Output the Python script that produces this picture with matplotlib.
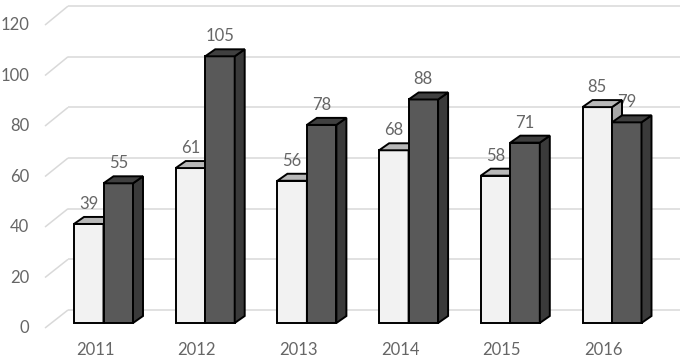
import matplotlib
matplotlib.use("Agg")
import matplotlib.pyplot as plt
from matplotlib.patches import Polygon

years = ["2011", "2012", "2013", "2014", "2015", "2016"]
series_a = [39, 61, 56, 68, 58, 85]
series_b = [55, 105, 78, 88, 71, 79]
yticks = [0, 20, 40, 60, 80, 100, 120]

TEXT = "#666666"
GRID = "#d9d9d9"
FONT = "Lato"

fig = plt.figure(figsize=(6.86, 3.58), dpi=100)
ax = fig.add_axes([0, 0, 1, 1])
ax.set_xlim(-103.5 / 101.7, (686 - 103.5) / 101.7)
ax.set_ylim((323 - 358) / 2.54, 323 / 2.54)
ax.axis("off")

w = 29.5 / 101.7
dx = 10 / 101.7
dy = 7 / 2.54

# back wall gridlines and diagonals
xb0, xb1 = (68 - 103.5) / 101.7, (680 - 103.5) / 101.7
xf = (45 - 103.5) / 101.7
for v in yticks:
    yb = 5.12 + 0.997 * v
    yf = -1.97 + 0.994 * v
    ax.plot([xb0, xb1], [yb, yb], color=GRID, lw=1.1, zorder=1, solid_capstyle="butt")
    ax.plot([xf, xb0], [yf, yb], color=GRID, lw=1.1, zorder=1, solid_capstyle="butt")
    ax.text((29 - 103.5) / 101.7, yf, str(v), ha="right", va="center",
            fontsize=12, color=TEXT, family=FONT, zorder=2)

for i, y in enumerate(years):
    ax.text(i - 0.083, (323 - 350) / 2.54, y, ha="center", va="center",
            fontsize=12, color=TEXT, family=FONT)


def bar3d(x0, v, front, top, side, z):
    ek = dict(edgecolor="black", lw=1.4, joinstyle="miter", zorder=z)
    ax.add_patch(Polygon([(x0, 0), (x0 + w, 0), (x0 + w, v), (x0, v)], closed=True, facecolor=front, **ek))
    ax.add_patch(Polygon([(x0 + w, 0), (x0 + w + dx, dy), (x0 + w + dx, v + dy), (x0 + w, v)], closed=True, facecolor=side, **ek))
    ax.add_patch(Polygon([(x0, v), (x0 + w, v), (x0 + w + dx, v + dy), (x0 + dx, v + dy)], closed=True, facecolor=top, **ek))


for i in range(len(years)):
    a, b = series_a[i], series_b[i]
    ax.text(i - w / 2, a + 7.9, str(a), ha="center", va="center", fontsize=12,
            color=TEXT, family=FONT, zorder=3)
    ax.text(i + w / 2, b + 7.9, str(b), ha="center", va="center", fontsize=12,
            color=TEXT, family=FONT, zorder=3)
    bar3d(i - w, a, "#f2f2f2", "#b8b8b8", "#a6a6a6", 4)
    bar3d(i, b, "#595959", "#404040", "#3a3a3a", 5)

fig.savefig("out.png", dpi=100)
